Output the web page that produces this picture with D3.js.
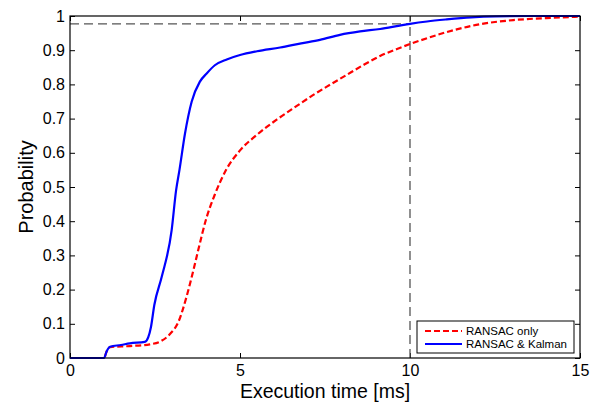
<!DOCTYPE html>
<html>
<head>
<meta charset="utf-8">
<script src="https://cdn.jsdelivr.net/npm/d3@7"></script>
<style>
  body { margin: 0; background: #fff; }
  text { font-family: "Liberation Sans", Arial, sans-serif; fill: #000; }
</style>
</head>
<body>
<div id="chart"></div>
<script>
// CDF curves: [time ms, probability]
const ransacOnly = [
  [0, 0], [1.0, 0], [1.08, 0.02], [1.18, 0.032], [1.76, 0.035], [2.35, 0.04],
  [2.65, 0.048], [2.94, 0.07], [3.19, 0.106], [3.43, 0.18], [3.63, 0.257],
  [3.77, 0.315], [4.0, 0.405], [4.26, 0.478], [4.58, 0.548], [5.0, 0.607],
  [5.49, 0.652], [6.08, 0.697], [6.67, 0.737], [7.2, 0.772], [7.7, 0.802],
  [8.14, 0.828], [8.6, 0.855], [9.12, 0.883], [9.6, 0.903], [10, 0.918],
  [10.5, 0.935], [11.08, 0.953], [12.06, 0.976], [13.04, 0.988], [14.02, 0.994],
  [15, 0.998]
];
const ransacKalman = [
  [0, 0], [1.0, 0], [1.08, 0.02], [1.18, 0.033], [1.5, 0.038], [1.76, 0.043],
  [2.2, 0.047], [2.3, 0.06], [2.38, 0.09], [2.48, 0.155], [2.7, 0.238],
  [2.99, 0.374], [3.12, 0.49], [3.22, 0.55], [3.38, 0.655], [3.58, 0.75],
  [3.82, 0.808], [4.02, 0.832], [4.26, 0.856], [4.61, 0.873], [5.0, 0.886],
  [5.5, 0.897], [6.18, 0.908], [6.8, 0.92], [7.35, 0.93], [7.94, 0.945],
  [8.53, 0.955], [9.12, 0.962], [9.7, 0.972], [10, 0.977], [10.5, 0.984],
  [11.08, 0.99], [11.8, 0.996], [12.5, 0.999], [13.5, 1], [15, 1]
];
const xTicks = [0, 5, 10, 15];
const yTicks = [0, 0.1, 0.2, 0.3, 0.4, 0.5, 0.6, 0.7, 0.8, 0.9, 1];
const refTime = 10;
const refProb = 0.977;
const legendLabels = ["RANSAC only", "RANSAC & Kalman"];

const width = 597, height = 403;
const margin = { top: 16, right: 17, bottom: 45, left: 70 };
const w = width - margin.left - margin.right;
const h = height - margin.top - margin.bottom;

const svg = d3.select("#chart").append("svg")
  .attr("width", width)
  .attr("height", height);

const g = svg.append("g")
  .attr("transform", `translate(${margin.left},${margin.top})`);

const x = d3.scaleLinear().domain([0, 15]).range([0, w]);
const y = d3.scaleLinear().domain([0, 1]).range([h, 0]);

const tickFmt = d => d3.format("")(d);

// axes with inward ticks on all four sides
g.append("g")
  .attr("transform", `translate(0,${h})`)
  .call(d3.axisBottom(x).tickValues(xTicks).tickSizeInner(-5).tickSizeOuter(0).tickPadding(7).tickFormat(tickFmt))
  .call(a => a.select(".domain").remove())
  .selectAll("text").attr("font-size", 16).attr("font-family", "Liberation Sans, Arial, sans-serif");

g.append("g")
  .call(d3.axisTop(x).tickValues(xTicks).tickSizeInner(-5).tickSizeOuter(0).tickFormat(""))
  .call(a => a.select(".domain").remove());

g.append("g")
  .call(d3.axisLeft(y).tickValues(yTicks).tickSizeInner(-5).tickSizeOuter(0).tickPadding(5).tickFormat(tickFmt))
  .call(a => a.select(".domain").remove())
  .selectAll("text").attr("font-size", 16).attr("font-family", "Liberation Sans, Arial, sans-serif");

g.append("g")
  .attr("transform", `translate(${w},0)`)
  .call(d3.axisRight(y).tickValues(yTicks).tickSizeInner(-5).tickSizeOuter(0).tickFormat(""))
  .call(a => a.select(".domain").remove());

// reference dashed lines
g.append("line")
  .attr("x1", x(0)).attr("x2", x(refTime))
  .attr("y1", y(refProb)).attr("y2", y(refProb))
  .attr("stroke", "#555").attr("stroke-width", 1.3).attr("stroke-dasharray", "9,5");

g.append("line")
  .attr("x1", x(refTime)).attr("x2", x(refTime))
  .attr("y1", y(0)).attr("y2", y(1))
  .attr("stroke", "#555").attr("stroke-width", 1.3).attr("stroke-dasharray", "9,5");

const line = d3.line()
  .x(d => x(d[0]))
  .y(d => y(d[1]))
  .curve(d3.curveMonotoneX);

g.append("path")
  .datum(ransacOnly)
  .attr("fill", "none")
  .attr("stroke", "#ff0000")
  .attr("stroke-width", 2.2)
  .attr("stroke-dasharray", "6,3")
  .attr("d", line);

g.append("path")
  .datum(ransacKalman)
  .attr("fill", "none")
  .attr("stroke", "#0000ff")
  .attr("stroke-width", 2.2)
  .attr("d", line);

// frame
g.append("rect")
  .attr("width", w).attr("height", h)
  .attr("fill", "none").attr("stroke", "#000").attr("stroke-width", 1.2);

// axis labels
svg.append("text")
  .attr("x", margin.left + w / 2)
  .attr("y", 398)
  .attr("text-anchor", "middle")
  .attr("font-size", 19.5)
  .text("Execution time [ms]");

svg.append("text")
  .attr("transform", `translate(33,${margin.top + h / 2}) rotate(-90)`)
  .attr("text-anchor", "middle")
  .attr("font-size", 20)
  .text("Probability");

// legend
const legend = svg.append("g").attr("transform", "translate(417,321)");
legend.append("rect")
  .attr("width", 157).attr("height", 32)
  .attr("fill", "#fff").attr("stroke", "#000").attr("stroke-width", 1);

const styles = [
  { color: "#ff0000", dash: "6,3" },
  { color: "#0000ff", dash: null }
];
legendLabels.forEach((label, i) => {
  const cy = 10 + i * 13;
  legend.append("line")
    .attr("x1", 8).attr("x2", 45)
    .attr("y1", cy).attr("y2", cy)
    .attr("stroke", styles[i].color)
    .attr("stroke-width", 2)
    .attr("stroke-dasharray", styles[i].dash);
  legend.append("text")
    .attr("x", 49).attr("y", cy + 4)
    .attr("font-size", 11.5)
    .text(label);
});
</script>
</body>
</html>
